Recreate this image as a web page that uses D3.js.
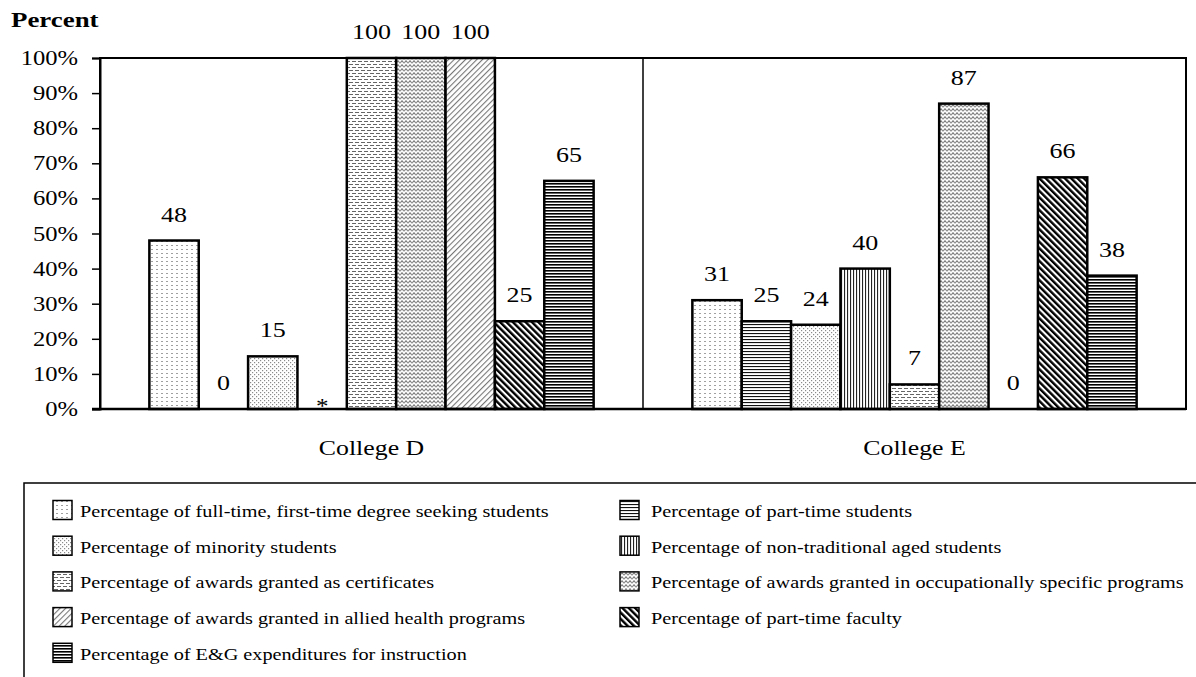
<!DOCTYPE html>
<html>
<head>
<meta charset="utf-8">
<script src="https://cdn.jsdelivr.net/npm/d3@7"></script>
<style>
  html, body { margin: 0; padding: 0; background: #fff; }
</style>
</head>
<body>
<svg id="chart" width="1196" height="677"></svg>
<script>
// ---------------- data ----------------
const colleges = ["College D", "College E"];
const seriesNames = [
  "Percentage of full-time, first-time degree seeking students",
  "Percentage of part-time students",
  "Percentage of minority students",
  "Percentage of non-traditional aged students",
  "Percentage of awards granted as certificates",
  "Percentage of awards granted in occupationally specific programs",
  "Percentage of awards granted in allied health programs",
  "Percentage of part-time faculty",
  "Percentage of E&G expenditures for instruction"
];
const collegeDValues = [48, 0, 15, null, 100, 100, 100, 25, 65];
const collegeEValues = [31, 25, 24, 40, 7, 87, 0, 66, 38];
const valuesByCollege = [collegeDValues, collegeEValues];
const missingLabel = "*";
const yTicks = [0, 10, 20, 30, 40, 50, 60, 70, 80, 90, 100];
const yTitle = "Percent";

// ---------------- layout ----------------
const W = 1196, H = 677;
const plot = { left: 100, right: 1186, top: 58, bottom: 409 };
const svg = d3.select("#chart");
const defs = svg.append("defs");
const FONT = "'Liberation Serif', 'Times New Roman', Tinos, serif";

function txt(g, x, y, s, opts = {}) {
  return g.append("text")
    .attr("transform", `translate(${x},${y}) scale(${opts.sx || 1.2},1)`)
    .attr("text-anchor", opts.anchor || "middle")
    .attr("font-family", FONT)
    .attr("font-size", opts.size || 20)
    .attr("font-weight", opts.weight || "normal")
    .attr("fill", "#000")
    .text(s);
}

// ---------------- patterns ----------------
const patIds = seriesNames.map((d, i) => "pat" + i);
function pat(id, w, h, build, transform) {
  const p = defs.append("pattern").attr("id", id)
    .attr("patternUnits", "userSpaceOnUse")
    .attr("width", w).attr("height", h);
  if (transform) p.attr("patternTransform", transform);
  p.append("rect").attr("width", w).attr("height", h).attr("fill", "#fff");
  build(p);
}
pat(patIds[0], 5, 4, p => {
  p.append("rect").attr("x", 1).attr("y", 1).attr("width", 2).attr("height", 1).attr("fill", "#a0a0a0");
});
pat(patIds[1], 4, 3, p => {
  p.append("rect").attr("x", 0).attr("y", 0).attr("width", 4).attr("height", 1.1).attr("fill", "#111");
});
pat(patIds[2], 4, 4, p => {
  p.append("rect").attr("x", 0).attr("y", 0).attr("width", 1.2).attr("height", 1.2).attr("fill", "#8a8a8a");
  p.append("rect").attr("x", 2).attr("y", 2).attr("width", 1.2).attr("height", 1.2).attr("fill", "#8a8a8a");
});
pat(patIds[3], 3, 4, p => {
  p.append("rect").attr("x", 0).attr("y", 0).attr("width", 1.1).attr("height", 4).attr("fill", "#222");
});
pat(patIds[4], 6, 6, p => {
  p.append("rect").attr("x", 0).attr("y", 1).attr("width", 4).attr("height", 1).attr("fill", "#666");
  p.append("rect").attr("x", 3).attr("y", 4).attr("width", 4).attr("height", 1).attr("fill", "#666");
  p.append("rect").attr("x", -3).attr("y", 4).attr("width", 4).attr("height", 1).attr("fill", "#666");
});
pat(patIds[5], 4, 4, p => {
  p.append("path").attr("d", "M0,3.5 L2,0.5 L4,3.5").attr("fill", "none").attr("stroke", "#666").attr("stroke-width", 1);
  p.append("path").attr("d", "M0,1.5 L1,3 M3,3 L4,1.5").attr("fill", "none").attr("stroke", "#999").attr("stroke-width", 0.8);
});
pat(patIds[6], 4, 4, p => {
  p.append("rect").attr("x", 0).attr("y", 0).attr("width", 1.1).attr("height", 4).attr("fill", "#777");
}, "rotate(45)");
pat(patIds[7], 4.5, 4, p => {
  p.append("rect").attr("x", 0).attr("y", 0).attr("width", 2.4).attr("height", 4).attr("fill", "#000");
}, "rotate(-45)");
pat(patIds[8], 4, 3, p => {
  p.append("rect").attr("x", 0).attr("y", 0).attr("width", 4).attr("height", 1.6).attr("fill", "#000");
});

// ---------------- scales ----------------
const x0 = d3.scaleBand().domain(colleges).range([plot.left, plot.right]).paddingInner(0).paddingOuter(0);
const x1 = d3.scaleBand().domain(d3.range(seriesNames.length))
  .range([0, x0.bandwidth()]).paddingInner(0).paddingOuter(1);
const y = d3.scaleLinear().domain([0, 100]).range([plot.bottom, plot.top]);

// ---------------- plot frame ----------------
const g = svg.append("g");
g.append("rect").attr("x", plot.left).attr("y", plot.top)
  .attr("width", plot.right - plot.left).attr("height", plot.bottom - plot.top)
  .attr("fill", "none").attr("stroke", "#000").attr("stroke-width", 2);

g.append("line")
  .attr("x1", x0(colleges[1])).attr("x2", x0(colleges[1]))
  .attr("y1", plot.top).attr("y2", plot.bottom)
  .attr("stroke", "#000").attr("stroke-width", 1.5);

const yAxis = d3.axisLeft(y).tickValues(yTicks).tickSize(8).tickFormat(d => d + "%");
const ya = g.append("g").attr("transform", `translate(${plot.left},0)`).call(yAxis);
ya.select(".domain").attr("stroke", "#000").attr("stroke-width", 2);
ya.selectAll(".tick line").attr("stroke", "#000").attr("stroke-width", 1.5);
ya.selectAll(".tick text").remove();
yTicks.forEach(v => {
  txt(g, plot.left - 22, y(v) + 7, v + "%", { anchor: "end", size: 20, sx: 1.23 });
});

txt(g, 11, 27, yTitle, { anchor: "start", size: 21, weight: "bold", sx: 1.28 });

// ---------------- bars ----------------
colleges.forEach((c, ci) => {
  const gg = g.append("g").attr("transform", `translate(${x0(c)},0)`);
  valuesByCollege[ci].forEach((v, si) => {
    const bx = x1(si), bw = x1.bandwidth();
    if (v !== null && v > 0) {
      gg.append("rect")
        .attr("x", bx).attr("y", y(v))
        .attr("width", bw).attr("height", y(0) - y(v))
        .attr("fill", `url(#${patIds[si]})`)
        .attr("stroke", "#000").attr("stroke-width", 2.5);
    }
    if (v === null) {
      txt(gg, bx + bw / 2, y(0) + 4, missingLabel, { size: 20, sx: 1.25 });
    } else {
      txt(gg, bx + bw / 2, y(v) - 19, String(v), { size: 20, sx: 1.3 });
    }
  });
  txt(g, x0(c) + x0.bandwidth() / 2, 455, c, { size: 20, sx: 1.29 });
});

g.append("line").attr("x1", plot.left - 8).attr("x2", plot.right)
  .attr("y1", plot.bottom).attr("y2", plot.bottom)
  .attr("stroke", "#000").attr("stroke-width", 2.5);

// ---------------- legend ----------------
const lg = svg.append("g");
const legTop = 483, legLeft = 24;
lg.append("path").attr("d", `M${legLeft},${H} L${legLeft},${legTop} L${W},${legTop}`)
  .attr("fill", "none").attr("stroke", "#000").attr("stroke-width", 1.5);
const swX = [53, 620];
const txX = [80, 651];
const rowY0 = 511, rowStep = 35.7, sw = 19;
seriesNames.forEach((name, i) => {
  const col = i % 2, row = Math.floor(i / 2);
  const cy = rowY0 + row * rowStep;
  lg.append("rect").attr("x", swX[col]).attr("y", cy - sw / 2 - 1).attr("width", sw).attr("height", sw)
    .attr("fill", `url(#${patIds[i]})`).attr("stroke", "#000").attr("stroke-width", 1.5);
  txt(lg, txX[col], cy + 6, name, { anchor: "start", size: 17, sx: 1.19 });
});
</script>
</body>
</html>
